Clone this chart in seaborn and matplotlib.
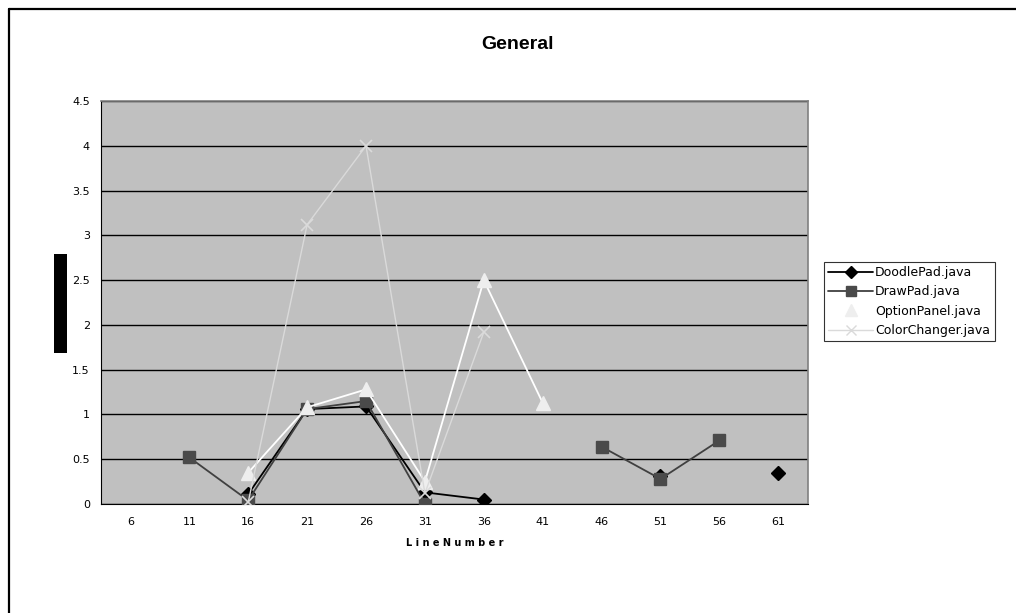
import numpy as np
import pandas as pd
import matplotlib
matplotlib.use("Agg")
import matplotlib.pyplot as plt
from matplotlib.lines import Line2D
from matplotlib.patches import Rectangle
import seaborn as sns

# Line numbers on the category axis
line_numbers = [6, 11, 16, 21, 26, 31, 36, 41, 46, 51, 56, 61]

nan = np.nan
doodlepad = [nan, nan, 0.11, 1.06, 1.09, 0.13, 0.05, nan, nan, 0.31, nan, 0.35]
drawpad = [nan, 0.52, 0.04, 1.06, 1.15, 0.00, nan, nan, 0.64, 0.28, 0.71, nan]
optionpanel = [nan, nan, 0.35, 1.08, 1.28, 0.25, 2.50, 1.13, nan, nan, nan, nan]
colorchanger = [nan, nan, 0.02, 3.12, 4.00, 0.12, 1.92, nan, nan, nan, nan, nan]

series_names = ["DoodlePad.java", "DrawPad.java", "OptionPanel.java", "ColorChanger.java"]
series_values = [doodlepad, drawpad, optionpanel, colorchanger]
y_tick_labels = ["0", "0.5", "1", "1.5", "2", "2.5", "3", "3.5", "4", "4.5"]

styles = {
    "DoodlePad.java": dict(color="#000000", mfc="#000000", mec="#000000", marker="D", ms=7, lw=1.3),
    "DrawPad.java": dict(color="#404040", mfc="#4a4a4a", mec="#4a4a4a", marker="s", ms=9, lw=1.3),
    "OptionPanel.java": dict(color="#ffffff", mfc="#eeeeee", mec="#eeeeee", marker="^", ms=10, lw=1.3),
    "ColorChanger.java": dict(color="#dadada", mfc="none", mec="#dadada", marker="x", ms=9, lw=1.0),
}

sns.set_style("white")
plt.rcParams["font.family"] = ["DejaVu Sans"]
plt.rcParams["text.color"] = "#000000"
plt.rcParams["xtick.color"] = "#000000"
plt.rcParams["ytick.color"] = "#000000"
plt.rcParams["axes.labelcolor"] = "#000000"

fig = plt.figure(figsize=(10.16, 6.13), dpi=100)
ax = fig.add_axes([0.0994, 0.1778, 0.6956, 0.6572])
ax.set_facecolor("#c0c0c0")

positions = np.arange(len(line_numbers)) + 0.5

handles = []
for name, vals in zip(series_names, series_values):
    st = styles[name]
    df = pd.DataFrame({"pos": positions, "val": vals})
    # split into contiguous runs so gaps stay open
    valid = df["val"].notna()
    seg_id = (~valid).cumsum()
    for _, seg in df[valid].groupby(seg_id[valid]):
        sns.lineplot(data=seg, x="pos", y="val", ax=ax, color=st["color"], lw=st["lw"],
                     marker=st["marker"], markersize=st["ms"], markerfacecolor=st["mfc"],
                     markeredgecolor=st["mec"], markeredgewidth=1.0 if st["marker"] != "x" else 1.2,
                     sort=False, estimator=None, legend=False, zorder=3)
    handles.append(Line2D([0], [0], color=st["color"], lw=st["lw"], marker=st["marker"],
                          markersize=st["ms"] * 0.85, markerfacecolor=st["mfc"],
                          markeredgecolor=st["mec"], label=name))

ax.set_xlim(0, len(line_numbers))
ax.set_ylim(0, 4.5)
ax.set_yticks(np.arange(0, 4.51, 0.5))
ax.set_yticklabels(y_tick_labels, fontsize=8)
ax.yaxis.grid(True, color="#000000", lw=1.0, zorder=1)
ax.set_axisbelow(True)

ax.set_xticks(np.arange(0, len(line_numbers) + 1))
ax.set_xticklabels([])
ax.set_xticks(positions, minor=True)
ax.set_xticklabels([str(v) for v in line_numbers], minor=True, fontsize=8)
ax.tick_params(axis="x", which="major", direction="out", length=5, width=0.8, color="#000000")
ax.tick_params(axis="x", which="minor", length=0, pad=9)
ax.tick_params(axis="y", direction="out", length=4, width=0.8, color="#000000", pad=4)

for side in ["top", "right"]:
    ax.spines[side].set_color("#808080")
    ax.spines[side].set_linewidth(1.2)
for side in ["left", "bottom"]:
    ax.spines[side].set_color("#000000")
    ax.spines[side].set_linewidth(0.8)

ax.set_xlabel("L i n e N u m b e r", fontsize=7, fontweight="bold", labelpad=8)
ax.set_ylabel("")
fig.text(0.509, 0.927, "General", ha="center", va="center", fontsize=14,
         fontweight="bold", family="Liberation Sans")

leg = fig.legend(handles=handles, loc="upper left", bbox_to_anchor=(0.811, 0.573),
                 frameon=True, fancybox=False, fontsize=9, handlelength=3.6,
                 handletextpad=0.15, borderpad=0.35, labelspacing=0.5, borderaxespad=0)
leg.get_frame().set_edgecolor("#000000")
leg.get_frame().set_linewidth(0.8)

# obscured vertical axis caption block
fig.patches.append(Rectangle((0.053, 0.424), 0.013, 0.1615, transform=fig.transFigure,
                             facecolor="#000000", edgecolor="none"))
# outer chart border (top and left edges visible)
fig.add_artist(Line2D([0.0085, 1.0], [0.986, 0.986], transform=fig.transFigure,
                      color="#000000", lw=1.6))
fig.add_artist(Line2D([0.0085, 0.0085], [0.0, 0.986], transform=fig.transFigure,
                      color="#000000", lw=1.6))

fig.savefig("out.png", dpi=100, facecolor="white")
